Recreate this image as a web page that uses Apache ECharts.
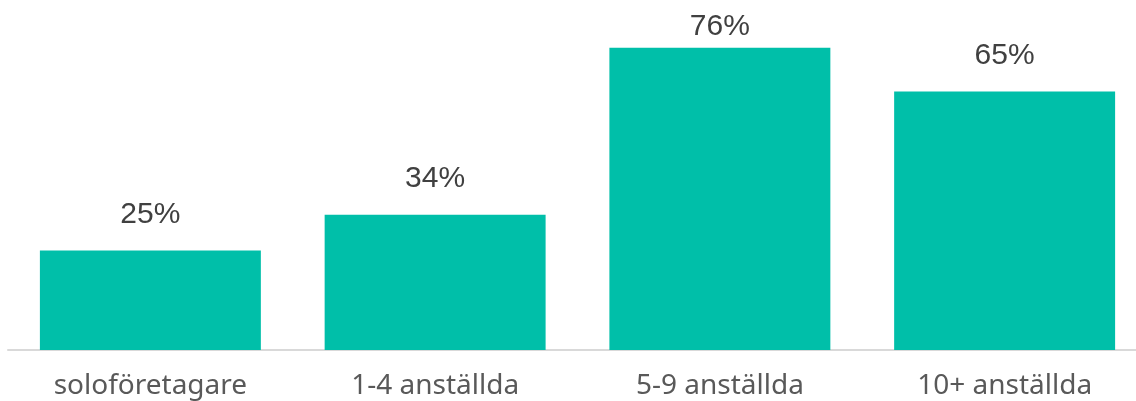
<!DOCTYPE html>
<html>
<head>
<meta charset="utf-8">
<script src="https://cdn.jsdelivr.net/npm/echarts@6/dist/echarts.min.js"></script>
<style>
  html, body { margin: 0; padding: 0; background: #fff; }
  #chart { width: 1136px; height: 401px; }
</style>
</head>
<body>
<div id="chart"></div>
<script>
var categories = ['soloföretagare', '1-4 anställda', '5-9 anställda', '10+ anställda'];
var values = [25, 34, 76, 65];

// the tallest bar's label sits closer, it is squeezed under the top edge
var seriesData = values.map(function (v) {
    return v === Math.max.apply(null, values)
        ? { value: v, label: { distance: 6 } }
        : v;
});

var chart = echarts.init(document.getElementById('chart'));
var option = {
    animation: false,
    grid: { left: 8, right: -11, top: 0, bottom: 51, outerBoundsMode: 'none', containLabel: false },
    xAxis: {
        type: 'category',
        data: categories,
        axisLine: { show: true, lineStyle: { color: '#d9d9d9', width: 2 } },
        axisTick: { show: false },
        axisLabel: {
            color: '#595959',
            fontSize: 28,
            fontFamily: 'Noto Sans',
            margin: 22
        }
    },
    yAxis: {
        type: 'value',
        min: 0,
        max: 88,
        show: false,
        splitLine: { show: false }
    },
    series: [{
        type: 'bar',
        data: seriesData,
        barCategoryGap: '22.4%',
        itemStyle: { color: '#00bfa9' },
        label: {
            show: true,
            position: 'top',
            distance: 21,
            formatter: '{c}%',
            color: '#404040',
            fontSize: 30,
            fontFamily: 'Liberation Sans'
        }
    }]
};
chart.setOption(option);
</script>
</body>
</html>
